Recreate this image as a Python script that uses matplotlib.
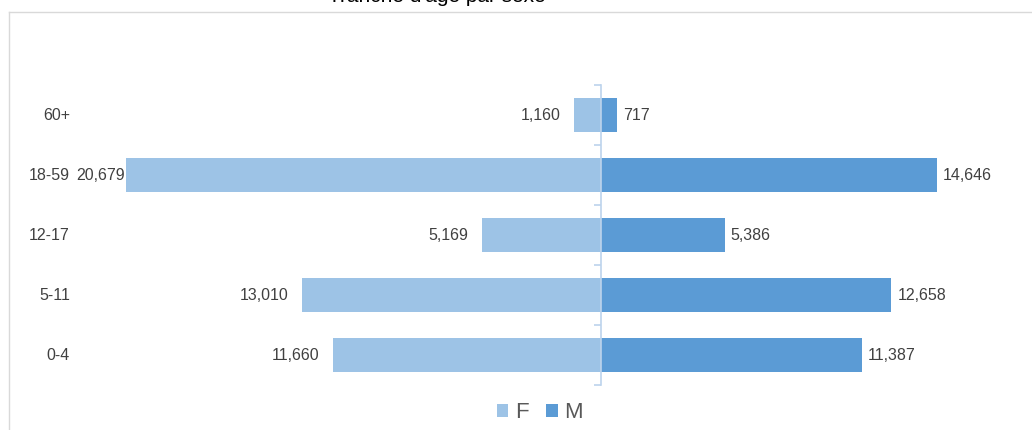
import matplotlib
matplotlib.use("Agg")
import matplotlib.pyplot as plt
import matplotlib.transforms as mtransforms
from matplotlib.patches import Patch
from matplotlib.lines import Line2D
import numpy as np

plt.rcParams['font.family'] = ['Liberation Sans', 'DejaVu Sans']

categories = ["0-4", "5-11", "12-17", "18-59", "60+"]
female = [11660, 13010, 5169, 20679, 1160]
male = [11387, 12658, 5386, 14646, 717]
title = "Tranche d'âge par sexe"
legend_labels = ["F", "M"]

C_F = "#9DC3E6"
C_M = "#5B9BD5"
TXT = "#404040"

W, H = 1032, 430
fig = plt.figure(figsize=(W / 100, H / 100), dpi=100)

# axes in pixel coords
ax_l, ax_r = 96, 1014
ax_t, ax_b = 85, 385
ax = fig.add_axes([ax_l / W, 1 - ax_b / H, (ax_r - ax_l) / W, (ax_b - ax_t) / H])
ax.set_xlim(-22000, 18000)
ax.set_ylim(-0.5, len(categories) - 0.5)

y = np.arange(len(categories))
ax.barh(y, [-v for v in female], height=0.58, color=C_F, zorder=2)
ax.barh(y, male, height=0.58, color=C_M, zorder=2)

for s in ["top", "right", "bottom"]:
    ax.spines[s].set_visible(False)
ax.spines["left"].set_position(("data", 0))
ax.spines["left"].set_color("#BCD3EC")
ax.spines["left"].set_linewidth(1.2)
ax.spines["left"].set_zorder(3)
ax.set_xticks([])
ax.set_yticks(np.arange(-0.5, len(categories), 1.0))
ax.set_yticklabels([])
ax.tick_params(axis="y", length=5, width=1.2, color="#BCD3EC", direction="out")

# category labels at fixed left position
trans = mtransforms.blended_transform_factory(fig.transFigure, ax.transData)
for yi, c in zip(y, categories):
    fig.text(70 / W, yi, c, ha="right", va="center", fontsize=11.5, color=TXT, transform=trans)

# data labels
for yi, v in zip(y, female):
    off = -14 if v < 20000 else -1
    ax.annotate(f"{v:,}", xy=(-v, yi), xytext=(off * 0.72, 0), textcoords="offset points",
                ha="right", va="center", fontsize=11.5, color=TXT)
for yi, v in zip(y, male):
    ax.annotate(f"{v:,}", xy=(v, yi), xytext=(6 * 0.72, 0), textcoords="offset points",
                ha="left", va="center", fontsize=11.5, color=TXT)

# chart border (cropped)
fig.add_artist(Line2D([9 / W, 1], [1 - 12 / H, 1 - 12 / H], color="#D9D9D9", lw=1.0, transform=fig.transFigure))
fig.add_artist(Line2D([9 / W, 9 / W], [1 - 12 / H, 0], color="#D9D9D9", lw=1.0, transform=fig.transFigure))

# title (cropped at the top, as in the reference)
fig.text(437 / W, 1 - 1.5 / H, title, ha="center", va="baseline", fontsize=15, color="#000000")

handles = [Patch(facecolor=C_F, edgecolor="none"), Patch(facecolor=C_M, edgecolor="none")]
fig.legend(handles, legend_labels, loc="center", bbox_to_anchor=(540 / W, 1 - 413 / H),
           ncol=2, frameon=False, fontsize=16, handlelength=0.5, handleheight=0.5,
           handletextpad=0.3, columnspacing=0.8, labelcolor="#595959")

fig.savefig("out.png", dpi=100)
